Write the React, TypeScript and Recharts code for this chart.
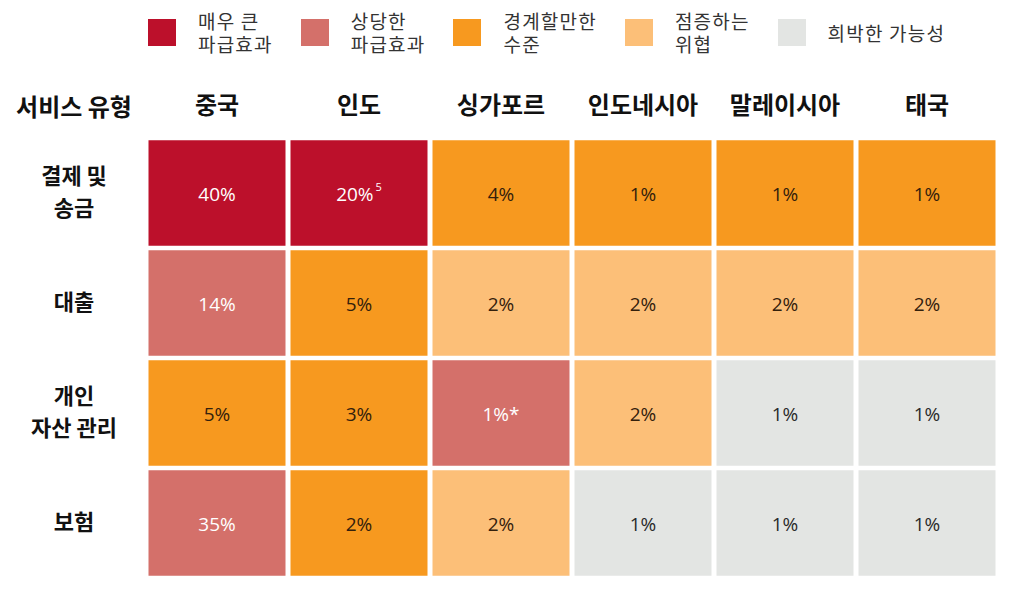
import { ScatterChart, Scatter, XAxis, YAxis, Legend } from "recharts";

const countries = ["중국", "인도", "싱가포르", "인도네시아", "말레이시아", "태국"];
const services = ["결제 및\n송금", "대출", "개인\n자산 관리", "보험"];

// cell labels per service row
const paymentValues = ["40%", "20%", "4%", "1%", "1%", "1%"];
const lendingValues = ["14%", "5%", "2%", "2%", "2%", "2%"];
const wealthValues = ["5%", "3%", "1%*", "2%", "1%", "1%"];
const insuranceValues = ["35%", "2%", "2%", "1%", "1%", "1%"];

// footnote superscripts per row
const paymentNotes = ["", "5", "", "", "", ""];

// impact level per cell (0 = 매우 큰 파급효과 ... 4 = 희박한 가능성)
const paymentLevels = [0, 0, 2, 2, 2, 2];
const lendingLevels = [1, 2, 3, 3, 3, 3];
const wealthLevels = [2, 2, 1, 3, 4, 4];
const insuranceLevels = [1, 2, 3, 4, 4, 4];

const levelLabels = ["매우 큰\n파급효과", "상당한\n파급효과", "경계할만한\n수준", "점증하는\n위협", "희박한 가능성"];
const levelColors = ["#BC102B", "#D4706A", "#F7991F", "#FCBF78", "#E3E5E3"];
const levelTextColors = ["#FFFFFF", "#FFFFFF", "#33200C", "#33200C", "#2A2A2A"];

const rowValues = [paymentValues, lendingValues, wealthValues, insuranceValues];
const rowLevels = [paymentLevels, lendingLevels, wealthLevels, insuranceLevels];
const rowNotes = [paymentNotes, [], [], []];

const W = 1024;
const H = 606;
const margin = { top: 108, right: 26, bottom: 28, left: 86 };
const Y_AXIS_W = 60;
const X_AXIS_H = 30;
const plotW = W - margin.left - Y_AXIS_W - margin.right;
const plotH = H - margin.top - X_AXIS_H - margin.bottom;
const cellW = plotW / countries.length - 5;
const cellH = plotH / services.length - 4.5;

const KR = "'Noto Sans CJK KR', 'Noto Sans', sans-serif";
const NUM = "'Open Sans', 'Noto Sans', sans-serif";

const cellsByLevel = levelLabels.map((_, lvl) => {
  const out: any[] = [];
  rowLevels.forEach((levels, r) => {
    levels.forEach((l, c) => {
      if (l === lvl) {
        out.push({ x: c, y: r, label: rowValues[r][c], note: rowNotes[r][c] || "", level: l });
      }
    });
  });
  return out;
});

const CellShape = (props: any) => {
  const { cx, cy, payload } = props;
  if (cx == null || cy == null) return null;
  const color = levelTextColors[payload.level];
  return (
    <g>
      <rect x={cx - cellW / 2} y={cy - cellH / 2} width={cellW} height={cellH} fill={levelColors[payload.level]} />
      <text
        x={cx}
        y={cy + 1}
        textAnchor="middle"
        dominantBaseline="central"
        fill={color}
        fontFamily={NUM}
        fontSize={19}
      >
        {payload.label}
        {payload.note ? (
          <tspan fontSize={11} dy={-8} dx={2}>
            {payload.note}
          </tspan>
        ) : null}
      </text>
    </g>
  );
};

const CountryTick = (props: any) => {
  const { x, y, payload } = props;
  return (
    <text x={x} y={y - 16} textAnchor="middle" fill="#111" fontFamily={KR} fontSize={24} fontWeight={700}>
      {countries[payload.value]}
    </text>
  );
};

const ServiceTick = (props: any) => {
  const { y, payload } = props;
  const lines = services[payload.value].split("\n");
  const lh = 32;
  const start = y - 3 - ((lines.length - 1) * lh) / 2;
  return (
    <g>
      {lines.map((ln, i) => (
        <text
          key={i}
          x={74}
          y={start + i * lh}
          dominantBaseline="central"
          textAnchor="middle"
          fill="#111"
          fontFamily={KR}
          fontSize={22}
          fontWeight={700}
        >
          {ln}
        </text>
      ))}
    </g>
  );
};

const LegendContent = (props: any) => {
  const items = [...(props.payload || [])].sort(
    (a: any, b: any) => levelLabels.indexOf(a.value) - levelLabels.indexOf(b.value)
  );
  return (
    <div style={{ display: "flex", alignItems: "center", paddingLeft: 148, gap: 28, paddingTop: 9 }}>
      {items.map((p: any, i: number) => (
        <div key={i} style={{ display: "flex", alignItems: "center", gap: 22 }}>
          <div style={{ width: 28, height: 27, background: p.color }} />
          <div
            style={{
              fontFamily: KR,
              fontSize: 19,
              letterSpacing: 1.2,
              lineHeight: "23px",
              color: "#333",
              whiteSpace: "pre",
              textAlign: "left",
            }}
          >
            {p.value}
          </div>
        </div>
      ))}
    </div>
  );
};

export default function App() {
  return (
    <div style={{ position: "absolute", left: 0, top: 0, width: W, height: H, background: "#fff" }}>
      <ScatterChart width={W} height={H} margin={margin}>
        <XAxis
          type="number"
          dataKey="x"
          orientation="top"
          domain={[-0.5, countries.length - 0.5]}
          ticks={countries.map((_, i) => i)}
          interval={0}
          height={X_AXIS_H}
          axisLine={false}
          tickLine={false}
          tick={<CountryTick />}
        />
        <YAxis
          type="number"
          dataKey="y"
          reversed
          domain={[-0.5, services.length - 0.5]}
          ticks={services.map((_, i) => i)}
          interval={0}
          width={Y_AXIS_W}
          axisLine={false}
          tickLine={false}
          tick={<ServiceTick />}
          label={{
            content: (p: any) => (
              <text
                x={74}
                y={p.viewBox.y - 33}
                textAnchor="middle"
                dominantBaseline="central"
                fill="#111"
                fontFamily={KR}
                fontSize={24}
                fontWeight={700}
              >
                서비스 유형
              </text>
            ),
          }}
        />
        <Legend
          layout="horizontal"
          verticalAlign="middle"
          align="center"
          wrapperStyle={{ top: 0, left: 0, width: W }}
          content={<LegendContent />}
        />
        {levelLabels.map((name, lvl) => (
          <Scatter
            key={lvl}
            name={name}
            data={cellsByLevel[lvl]}
            fill={levelColors[lvl]}
            shape={<CellShape />}
            isAnimationActive={false}
          />
        ))}
      </ScatterChart>
    </div>
  );
}
